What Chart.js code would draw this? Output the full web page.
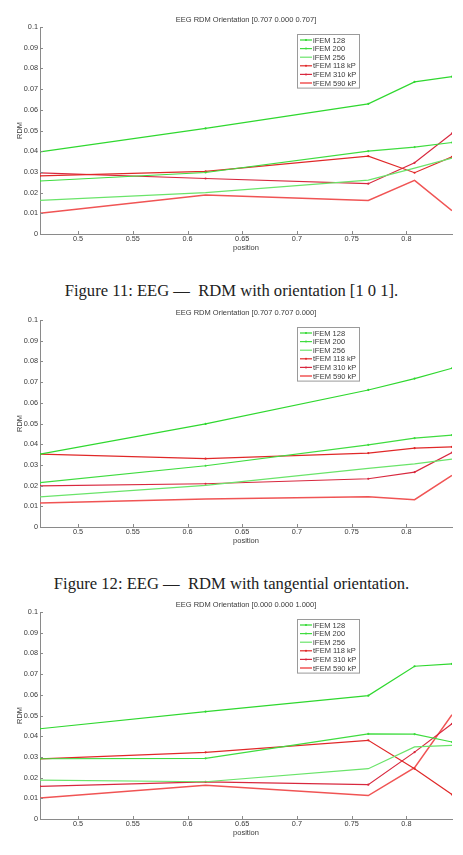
<!DOCTYPE html>
<html>
<head>
<meta charset="utf-8">
<script src="https://cdn.jsdelivr.net/npm/chart.js@4.4.1/dist/chart.umd.min.js"></script>
<style>
  body { margin: 0; background: #fff; width: 463px; height: 855px; position: relative; overflow: hidden; }
  canvas { position: absolute; left: 0; }
  .cap { position: absolute; left: 0; width: 463px; text-align: center; white-space: pre;
         font-family: "Liberation Serif", "DejaVu Serif", serif; font-size: 16.6px; color: #222; line-height: 18px; }
</style>
</head>
<body>
<canvas id="chart101" width="463" height="252" style="top:0px"></canvas>
<div class="cap" style="top:282px">Figure 11: EEG —  RDM with orientation [1 0 1].</div>
<canvas id="chart110" width="463" height="252" style="top:293px"></canvas>
<div class="cap" style="top:575px">Figure 12: EEG —  RDM with tangential orientation.</div>
<canvas id="chart001" width="463" height="252" style="top:585px"></canvas>
<script>
// x positions shared by every series
const positions = [0.4652, 0.6165, 0.7652, 0.8075, 0.8417];
const xTicks = [0.5, 0.55, 0.6, 0.65, 0.7, 0.75, 0.8];
const seriesLabels = ['iFEM 128', 'iFEM 200', 'iFEM 256', 'tFEM 118 kP', 'tFEM 310 kP', 'tFEM 590 kP'];

// Orientation [0.707 0.000 0.707]
const ifem128_101 = [0.0397, 0.0510, 0.0629, 0.0735, 0.0760];
const ifem200_101 = [0.0256, 0.0297, 0.0400, 0.0420, 0.0442];
const ifem256_101 = [0.0162, 0.0200, 0.0260, 0.0318, 0.0367];
const tfem118_101 = [0.0281, 0.0303, 0.0376, 0.0296, 0.0373];
const tfem310_101 = [0.0295, 0.0268, 0.0243, 0.0344, 0.0486];
const tfem590_101 = [0.0100, 0.0188, 0.0162, 0.0259, 0.0113];

// Orientation [0.707 0.707 0.000]
const ifem128_110 = [0.0352, 0.0498, 0.0662, 0.0717, 0.0767];
const ifem200_110 = [0.0214, 0.0296, 0.0397, 0.0429, 0.0444];
const ifem256_110 = [0.0146, 0.0201, 0.0283, 0.0305, 0.0328];
const tfem118_110 = [0.0352, 0.0330, 0.0357, 0.0381, 0.0387];
const tfem310_110 = [0.0199, 0.0209, 0.0233, 0.0265, 0.0360];
const tfem590_110 = [0.0116, 0.0135, 0.0146, 0.0132, 0.0249];

// Orientation [0.000 0.000 1.000]
const ifem128_001 = [0.0436, 0.0519, 0.0596, 0.0738, 0.0749];
const ifem200_001 = [0.0291, 0.0293, 0.0411, 0.0410, 0.0372];
const ifem256_001 = [0.0188, 0.0180, 0.0243, 0.0348, 0.0356];
const tfem118_001 = [0.0290, 0.0322, 0.0380, 0.0243, 0.0118];
const tfem310_001 = [0.0158, 0.0179, 0.0166, 0.0323, 0.0460];
const tfem590_001 = [0.0101, 0.0163, 0.0113, 0.0248, 0.0504];

const lineColors = ['#2fd82f', '#3fdc3f', '#6ae46a', '#e02828', '#d8283e', '#f05454'];
const lineWidths = [1.2, 1.2, 1.2, 1.2, 1.2, 1.5];
const hasMarker = [true, true, false, true, true, false];
const axisColor = '#8a8a8a';
const textColor = '#3a3a3a';
const sansFont = '"Liberation Sans", Arial, sans-serif';

// Matlab style ticks pointing into the plot
const innerTicks = {
    id: 'innerTicks',
    afterDraw(chart) {
        const { ctx, chartArea: a, scales: { x, y } } = chart;
        ctx.save();
        ctx.strokeStyle = axisColor;
        ctx.lineWidth = 1;
        ctx.beginPath();
        x.ticks.forEach(t => {
            const px = Math.round(x.getPixelForValue(t.value)) + 0.5;
            ctx.moveTo(px, a.bottom);
            ctx.lineTo(px, a.bottom - 3);
        });
        y.ticks.forEach(t => {
            const py = Math.round(y.getPixelForValue(t.value)) + 0.5;
            ctx.moveTo(a.left, py);
            ctx.lineTo(a.left + 3, py);
        });
        ctx.stroke();
        ctx.restore();
    }
};

// boxed legend inside the axes, top right
const boxLegend = {
    id: 'boxLegend',
    afterDraw(chart) {
        const ctx = chart.ctx;
        const left = 297, top = 34, w = 62, rowH = 8.6;
        const sets = chart.data.datasets;
        ctx.save();
        ctx.fillStyle = '#fff';
        ctx.fillRect(left, top, w, rowH * sets.length + 2);
        ctx.strokeStyle = '#9a9a9a';
        ctx.lineWidth = 1;
        ctx.strokeRect(left + 0.5, top + 0.5, w, rowH * sets.length + 2);
        ctx.font = '7.5px ' + sansFont;
        ctx.textBaseline = 'middle';
        sets.forEach((ds, i) => {
            const cy = top + 6 + i * rowH;
            ctx.strokeStyle = ds.borderColor;
            ctx.lineWidth = ds.borderWidth;
            ctx.beginPath();
            ctx.moveTo(left + 3, cy);
            ctx.lineTo(left + 15, cy);
            ctx.stroke();
            if (ds.pointRadius > 0) {
                ctx.fillStyle = ds.borderColor;
                ctx.beginPath();
                ctx.arc(left + 9, cy, 1, 0, Math.PI * 2);
                ctx.fill();
            }
            ctx.fillStyle = textColor;
            ctx.fillText(ds.label, left + 16, cy + 0.5);
        });
        ctx.restore();
    }
};

function makeChart(canvasId, title, series) {
    const canvas = document.getElementById(canvasId);
    const datasets = series.map((vals, i) => ({
        label: seriesLabels[i],
        data: positions.map((p, k) => ({ x: p, y: vals[k] })),
        borderColor: lineColors[i],
        backgroundColor: lineColors[i],
        borderWidth: lineWidths[i],
        pointRadius: hasMarker[i] ? 1.1 : 0,
        pointBorderWidth: 0,
        tension: 0,
        fill: false
    }));

    return new Chart(canvas.getContext('2d'), {
        type: 'line',
        data: { datasets },
        options: {
            responsive: false,
            animation: false,
            layout: { padding: { left: 0, right: 11, top: 0, bottom: 0 } },
            plugins: {
                legend: { display: false },
                tooltip: { enabled: false },
                title: {
                    display: true,
                    text: title,
                    fullSize: false, // centre over the axes, like Matlab
                    color: textColor,
                    font: { family: sansFont, size: 7.5, weight: 'normal', lineHeight: 1.2 },
                    padding: { top: 15, bottom: 3 }
                }
            },
            scales: {
                x: {
                    type: 'linear',
                    min: positions[0],
                    max: positions[positions.length - 1],
                    afterBuildTicks: s => { s.ticks = xTicks.map(v => ({ value: v })); },
                    afterFit: s => { s.height = 18; },
                    grid: { display: true, drawOnChartArea: false, drawTicks: false },
                    border: { display: true, color: axisColor },
                    ticks: {
                        color: textColor, padding: 1, maxRotation: 0, autoSkip: false,
                        font: { family: sansFont, size: 7.3 },
                        callback: v => String(v)
                    },
                    title: {
                        display: true, text: 'position', color: textColor,
                        font: { family: sansFont, size: 7.5 }, padding: 0
                    }
                },
                y: {
                    min: 0,
                    max: 0.1,
                    ticks: {
                        stepSize: 0.01, color: textColor, padding: 2,
                        font: { family: sansFont, size: 7.3 },
                        callback: v => String(Math.round(v * 100) / 100)
                    },
                    afterFit: s => { s.width = 40; },
                    grid: { display: true, drawOnChartArea: false, drawTicks: false },
                    border: { display: true, color: axisColor },
                    title: {
                        display: true, text: 'RDM', color: textColor,
                        font: { family: sansFont, size: 7.5 }, padding: { top: 15, bottom: 0 }
                    }
                }
            }
        },
        plugins: [innerTicks, boxLegend]
    });
}

makeChart('chart101', 'EEG RDM Orientation [0.707 0.000 0.707]',
    [ifem128_101, ifem200_101, ifem256_101, tfem118_101, tfem310_101, tfem590_101]);
makeChart('chart110', 'EEG RDM Orientation [0.707 0.707 0.000]',
    [ifem128_110, ifem200_110, ifem256_110, tfem118_110, tfem310_110, tfem590_110]);
makeChart('chart001', 'EEG RDM Orientation [0.000 0.000 1.000]',
    [ifem128_001, ifem200_001, ifem256_001, tfem118_001, tfem310_001, tfem590_001]);
</script>
</body>
</html>
